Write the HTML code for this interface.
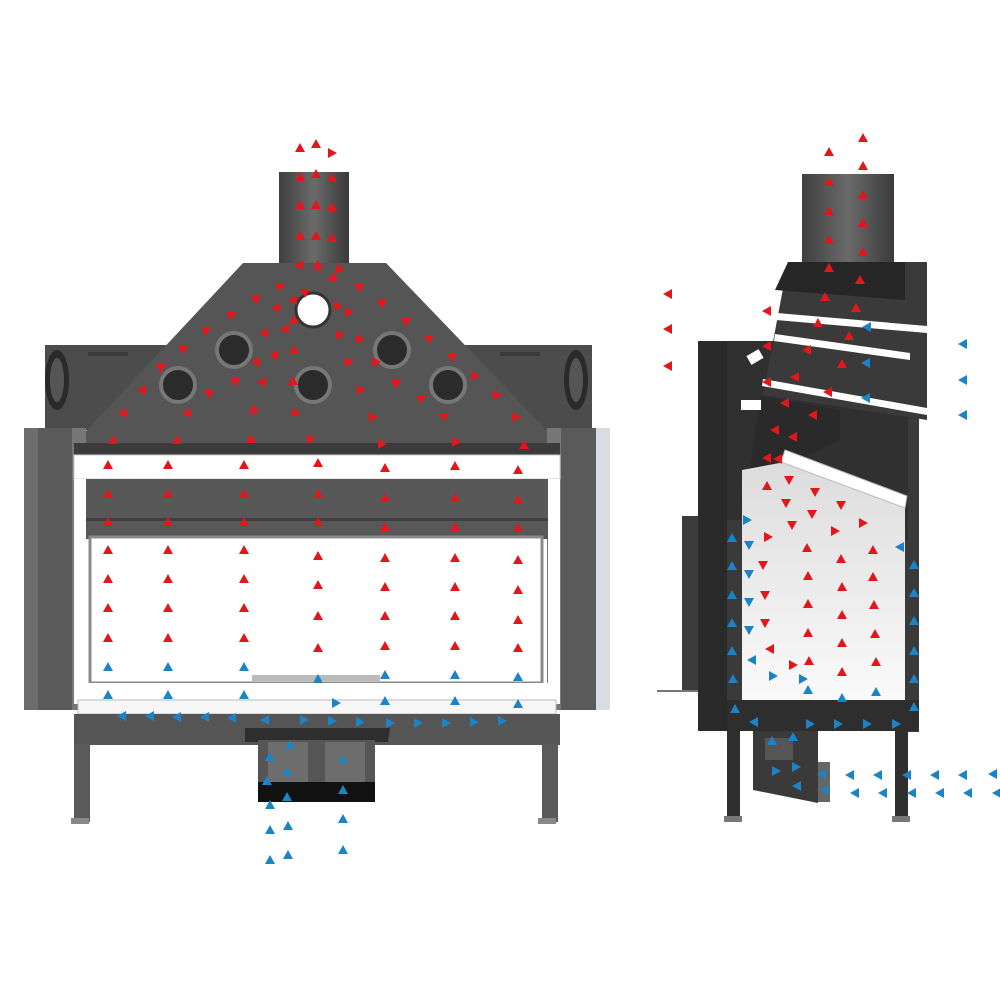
<!DOCTYPE html>
<html><head><meta charset="utf-8"><style>html,body{margin:0;padding:0;background:#fff}svg{display:block}</style></head>
<body>
<svg width="1000" height="1000" viewBox="0 0 1000 1000" xmlns="http://www.w3.org/2000/svg">
<defs>
<linearGradient id="pipe" x1="0" x2="1"><stop offset="0" stop-color="#3f3f3f"/><stop offset=".5" stop-color="#6a6a6a"/><stop offset="1" stop-color="#3a3a3a"/></linearGradient>
<linearGradient id="fire" x1="0" x2="0" y1="0" y2="1"><stop offset="0" stop-color="#dcdcdc"/><stop offset="1" stop-color="#fafafa"/></linearGradient>
<polygon id="ru" points="-5,4 5,4 0,-5" fill="#e3161c"/>
<polygon id="rd" points="-5,-4 5,-4 0,5" fill="#e3161c"/>
<polygon id="rl" points="4,-5 4,5 -5,0" fill="#e3161c"/>
<polygon id="rr" points="-4,-5 -4,5 5,0" fill="#e3161c"/>
<polygon id="bu" points="-5,4 5,4 0,-5" fill="#1b84c6"/>
<polygon id="bd" points="-5,-4 5,-4 0,5" fill="#1b84c6"/>
<polygon id="bl" points="4,-5 4,5 -5,0" fill="#1b84c6"/>
<polygon id="br" points="-4,-5 -4,5 5,0" fill="#1b84c6"/>
</defs>

<!-- ===== LEFT UNIT ===== -->
<rect x="45" y="345" width="547" height="85" fill="#4c4c4c"/>
<rect x="88" y="352" width="40" height="4" fill="#3a3a3a"/>
<rect x="500" y="352" width="40" height="4" fill="#3a3a3a"/>
<ellipse cx="57" cy="380" rx="12" ry="30" fill="#2a2a2a"/><ellipse cx="57" cy="380" rx="7" ry="22" fill="#555"/>
<ellipse cx="576" cy="380" rx="12" ry="30" fill="#2a2a2a"/><ellipse cx="576" cy="380" rx="7" ry="22" fill="#555"/>
<rect x="279" y="172" width="70" height="95" fill="url(#pipe)"/>
<polygon points="243,263 386,263 560,444 74,444" fill="#555"/>
<circle cx="313" cy="310" r="17" fill="#fff" stroke="#333" stroke-width="3"/>
<g fill="#2b2b2b" stroke="#777" stroke-width="4">
<circle cx="234" cy="350" r="17"/><circle cx="392" cy="350" r="17"/>
<circle cx="178" cy="385" r="17"/><circle cx="313" cy="385" r="17"/><circle cx="448" cy="385" r="17"/>
</g>
<rect x="24" y="428" width="48" height="282" fill="#5a5a5a"/><rect x="24" y="428" width="14" height="282" fill="#6d6d6d"/>
<rect x="560" y="428" width="36" height="282" fill="#5a5a5a"/><rect x="596" y="428" width="14" height="282" fill="#d8dde2"/>
<rect x="72" y="428" width="14" height="282" fill="#777"/><rect x="547" y="428" width="14" height="282" fill="#777"/>
<rect x="74" y="443" width="486" height="12" fill="#3b3b3b"/>
<rect x="74" y="455" width="486" height="24" fill="#fff" stroke="#ccc"/>
<rect x="86" y="479" width="462" height="60" fill="#585858"/>
<rect x="86" y="518" width="462" height="3" fill="#404040"/>
<rect x="74" y="479" width="12" height="225" fill="#fff"/><rect x="548" y="479" width="12" height="225" fill="#fff"/>
<rect x="90" y="537" width="452" height="146" fill="#fff" stroke="#8a8a8a" stroke-width="3"/>
<rect x="252" y="675" width="128" height="6" fill="#bbb"/>
<rect x="74" y="683" width="486" height="20" fill="#fff"/>
<rect x="78" y="700" width="478" height="14" fill="#f6f6f6" stroke="#bbb"/>
<rect x="74" y="714" width="486" height="31" fill="#555"/>
<rect x="74" y="744" width="16" height="78" fill="#5a5a5a"/><rect x="542" y="744" width="16" height="78" fill="#5a5a5a"/>
<rect x="71" y="818" width="18" height="6" fill="#888"/><rect x="538" y="818" width="18" height="6" fill="#888"/>
<polygon points="245,728 390,728 388,742 245,742" fill="#2e2e2e"/>
<rect x="258" y="740" width="117" height="48" fill="#555"/>
<rect x="268" y="742" width="40" height="44" fill="#6d6d6d"/><rect x="325" y="742" width="40" height="44" fill="#6d6d6d"/>
<rect x="258" y="782" width="117" height="20" fill="#111"/>

<!-- ===== RIGHT UNIT ===== -->
<rect x="802" y="174" width="92" height="90" fill="url(#pipe)"/>
<rect x="727" y="341" width="192" height="390" fill="#303030"/>
<rect x="698" y="341" width="29" height="390" fill="#2a2a2a"/>
<rect x="682" y="516" width="16" height="176" fill="#3c3c3c"/>
<rect x="657" y="690" width="41" height="2" fill="#777"/>
<rect x="908" y="262" width="11" height="470" fill="#3a3a3a"/>
<polygon points="788,262 927,262 927,420 763,395" fill="#3a3a3a"/>
<polygon points="788,262 905,262 905,300 775,290" fill="#262626"/>
<polygon points="777,313 927,326 927,333 776,320" fill="#fff"/>
<polygon points="775,334 910,353 910,360 774,341" fill="#fff"/>
<polygon points="763,379 927,408 927,415 762,386" fill="#fff"/>
<polygon points="760,396 840,410 840,440 760,480 743,520" fill="#2a2a2a"/>
<rect x="748" y="352" width="14" height="10" fill="#fff" transform="rotate(-30 755 357)"/>
<rect x="741" y="400" width="20" height="10" fill="#fff"/>
<polygon points="742,470 785,462 905,505 905,700 742,700" fill="url(#fire)"/>
<polygon points="785,450 907,496 905,508 781,462" fill="#fff" stroke="#bbb"/>
<rect x="727" y="520" width="15" height="180" fill="#3a3a3a"/>
<rect x="905" y="540" width="14" height="165" fill="#3a3a3a"/>
<rect x="727" y="700" width="192" height="31" fill="#2e2e2e"/>
<rect x="727" y="731" width="13" height="86" fill="#2f2f2f"/><rect x="895" y="731" width="13" height="86" fill="#2f2f2f"/>
<rect x="724" y="816" width="18" height="6" fill="#777"/><rect x="892" y="816" width="18" height="6" fill="#777"/>
<polygon points="753,731 818,731 818,803 753,790" fill="#3a3a3a"/>
<rect x="765" y="738" width="28" height="22" fill="#555"/>
<rect x="818" y="762" width="12" height="40" fill="#666"/>

<!-- ===== TRIANGLES LEFT ===== -->
<g>
<use href="#ru" x="300" y="148"/><use href="#ru" x="316" y="144"/><use href="#rr" x="332" y="153"/>
<use href="#ru" x="300" y="177"/><use href="#ru" x="316" y="174"/><use href="#ru" x="332" y="178"/>
<use href="#ru" x="300" y="205"/><use href="#ru" x="316" y="205"/><use href="#ru" x="332" y="207"/>
<use href="#ru" x="300" y="236"/><use href="#ru" x="316" y="236"/><use href="#ru" x="332" y="238"/>
<use href="#rl" x="299" y="265"/><use href="#ru" x="318" y="265"/><use href="#rr" x="340" y="269"/><use href="#ru" x="333" y="277"/>
<use href="#rd" x="280" y="287"/><use href="#rd" x="359" y="288"/><use href="#rd" x="305" y="293"/><use href="#rd" x="256" y="300"/>
<use href="#rl" x="293" y="300"/><use href="#rl" x="276" y="308"/><use href="#rr" x="338" y="306"/><use href="#rr" x="349" y="312"/>
<use href="#rd" x="382" y="304"/><use href="#rd" x="231" y="316"/><use href="#ru" x="294" y="320"/><use href="#rl" x="285" y="329"/>
<use href="#rl" x="264" y="333"/><use href="#rd" x="406" y="322"/><use href="#rd" x="206" y="331"/><use href="#rr" x="340" y="335"/>
<use href="#rr" x="360" y="339"/><use href="#rd" x="429" y="339"/><use href="#ru" x="294" y="350"/><use href="#rl" x="274" y="355"/>
<use href="#rd" x="183" y="349"/><use href="#rl" x="256" y="362"/><use href="#rr" x="349" y="362"/><use href="#rr" x="376" y="362"/>
<use href="#rd" x="452" y="357"/><use href="#rd" x="161" y="368"/><use href="#rd" x="235" y="382"/><use href="#rl" x="262" y="382"/>
<use href="#ru" x="293" y="381"/><use href="#rd" x="396" y="384"/><use href="#rr" x="475" y="376"/><use href="#rl" x="142" y="390"/>
<use href="#rd" x="209" y="394"/><use href="#rr" x="361" y="390"/><use href="#rd" x="421" y="399"/><use href="#rr" x="497" y="395"/>
<use href="#rl" x="123" y="413"/><use href="#rl" x="187" y="413"/><use href="#ru" x="254" y="409"/><use href="#ru" x="295" y="412"/>
<use href="#rr" x="373" y="417"/><use href="#rd" x="444" y="417"/><use href="#rr" x="516" y="417"/>
<use href="#ru" x="113" y="440"/><use href="#ru" x="177" y="440"/><use href="#ru" x="251" y="439"/><use href="#rr" x="311" y="439"/>
<use href="#rr" x="382" y="444"/><use href="#rr" x="456" y="442"/><use href="#ru" x="524" y="445"/>
</g>
<g>
<use href="#ru" x="108" y="465"/><use href="#ru" x="168" y="465"/><use href="#ru" x="244" y="465"/><use href="#ru" x="318" y="463"/><use href="#ru" x="385" y="468"/><use href="#ru" x="455" y="466"/><use href="#ru" x="518" y="470"/>
<use href="#ru" x="108" y="494"/><use href="#ru" x="168" y="494"/><use href="#ru" x="244" y="494"/><use href="#ru" x="318" y="494"/><use href="#ru" x="385" y="498"/><use href="#ru" x="455" y="498"/><use href="#ru" x="518" y="500"/>
<use href="#ru" x="108" y="522"/><use href="#ru" x="168" y="522"/><use href="#ru" x="244" y="522"/><use href="#ru" x="318" y="522"/><use href="#ru" x="385" y="527"/><use href="#ru" x="455" y="527"/><use href="#ru" x="518" y="528"/>
<use href="#ru" x="108" y="550"/><use href="#ru" x="168" y="550"/><use href="#ru" x="244" y="550"/><use href="#ru" x="318" y="556"/><use href="#ru" x="385" y="558"/><use href="#ru" x="455" y="558"/><use href="#ru" x="518" y="560"/>
<use href="#ru" x="108" y="579"/><use href="#ru" x="168" y="579"/><use href="#ru" x="244" y="579"/><use href="#ru" x="318" y="585"/><use href="#ru" x="385" y="587"/><use href="#ru" x="455" y="587"/><use href="#ru" x="518" y="590"/>
<use href="#ru" x="108" y="608"/><use href="#ru" x="168" y="608"/><use href="#ru" x="244" y="608"/><use href="#ru" x="318" y="616"/><use href="#ru" x="385" y="616"/><use href="#ru" x="455" y="616"/><use href="#ru" x="518" y="620"/>
<use href="#ru" x="108" y="638"/><use href="#ru" x="168" y="638"/><use href="#ru" x="244" y="638"/><use href="#ru" x="318" y="648"/><use href="#ru" x="385" y="646"/><use href="#ru" x="455" y="646"/><use href="#ru" x="518" y="648"/>
<use href="#bu" x="108" y="667"/><use href="#bu" x="168" y="667"/><use href="#bu" x="244" y="667"/><use href="#bu" x="318" y="679"/><use href="#bu" x="385" y="675"/><use href="#bu" x="455" y="675"/><use href="#bu" x="518" y="677"/>
<use href="#bu" x="108" y="695"/><use href="#bu" x="168" y="695"/><use href="#bu" x="244" y="695"/><use href="#br" x="336" y="703"/><use href="#bu" x="385" y="701"/><use href="#bu" x="455" y="701"/><use href="#bu" x="518" y="704"/>
<use href="#bl" x="122" y="716"/><use href="#bl" x="150" y="716"/><use href="#bl" x="177" y="717"/><use href="#bl" x="205" y="717"/><use href="#bl" x="232" y="718"/><use href="#bl" x="265" y="720"/>
<use href="#br" x="304" y="720"/><use href="#br" x="332" y="721"/><use href="#br" x="360" y="722"/><use href="#br" x="390" y="723"/><use href="#br" x="418" y="723"/><use href="#br" x="446" y="723"/><use href="#br" x="474" y="722"/><use href="#br" x="502" y="721"/>
<use href="#bu" x="290" y="745"/><use href="#bu" x="270" y="757"/><use href="#bu" x="287" y="772"/><use href="#bu" x="267" y="781"/><use href="#bu" x="343" y="760"/>
<use href="#bu" x="287" y="797"/><use href="#bu" x="343" y="790"/><use href="#bu" x="270" y="805"/>
<use href="#bu" x="270" y="830"/><use href="#bu" x="288" y="826"/><use href="#bu" x="343" y="819"/>
<use href="#bu" x="270" y="860"/><use href="#bu" x="288" y="855"/><use href="#bu" x="343" y="850"/>
</g>

<!-- ===== TRIANGLES RIGHT ===== -->
<g>
<use href="#ru" x="863" y="138"/><use href="#ru" x="829" y="152"/><use href="#ru" x="863" y="166"/><use href="#ru" x="829" y="182"/><use href="#ru" x="863" y="195"/><use href="#ru" x="829" y="211"/><use href="#ru" x="863" y="223"/><use href="#ru" x="829" y="240"/><use href="#ru" x="863" y="252"/><use href="#ru" x="829" y="268"/><use href="#ru" x="860" y="280"/><use href="#ru" x="825" y="297"/><use href="#ru" x="856" y="308"/>
<use href="#ru" x="818" y="323"/><use href="#ru" x="849" y="336"/><use href="#rl" x="807" y="350"/><use href="#ru" x="842" y="364"/><use href="#rl" x="795" y="377"/><use href="#rl" x="828" y="392"/><use href="#rl" x="785" y="403"/><use href="#rl" x="813" y="415"/><use href="#rl" x="775" y="430"/><use href="#rl" x="793" y="437"/><use href="#rl" x="767" y="458"/><use href="#rl" x="778" y="459"/>
<use href="#ru" x="767" y="486"/><use href="#rd" x="789" y="480"/><use href="#rd" x="815" y="492"/><use href="#rd" x="786" y="503"/><use href="#rd" x="841" y="505"/><use href="#rd" x="812" y="514"/><use href="#rd" x="792" y="525"/><use href="#rr" x="835" y="531"/><use href="#rr" x="863" y="523"/><use href="#rr" x="768" y="537"/>
<use href="#ru" x="807" y="548"/><use href="#ru" x="873" y="550"/><use href="#ru" x="841" y="559"/><use href="#rd" x="763" y="565"/><use href="#ru" x="808" y="576"/><use href="#ru" x="873" y="577"/><use href="#ru" x="842" y="587"/><use href="#rd" x="765" y="595"/>
<use href="#ru" x="808" y="604"/><use href="#ru" x="874" y="605"/><use href="#ru" x="842" y="615"/><use href="#rd" x="765" y="623"/><use href="#ru" x="808" y="633"/><use href="#ru" x="875" y="634"/><use href="#ru" x="842" y="643"/><use href="#rl" x="770" y="649"/><use href="#rr" x="793" y="665"/><use href="#ru" x="809" y="661"/><use href="#ru" x="876" y="662"/><use href="#ru" x="842" y="672"/>
<use href="#rl" x="668" y="294"/><use href="#rl" x="668" y="329"/><use href="#rl" x="668" y="366"/><use href="#rl" x="767" y="311"/><use href="#rl" x="767" y="346"/><use href="#rl" x="767" y="382"/>
<use href="#bl" x="867" y="327"/><use href="#bl" x="866" y="363"/><use href="#bl" x="866" y="398"/><use href="#bl" x="963" y="344"/><use href="#bl" x="963" y="380"/><use href="#bl" x="963" y="415"/>
<use href="#br" x="747" y="520"/><use href="#bu" x="732" y="538"/><use href="#bd" x="749" y="545"/><use href="#bu" x="732" y="566"/><use href="#bd" x="749" y="574"/><use href="#bu" x="732" y="595"/><use href="#bd" x="749" y="602"/><use href="#bu" x="732" y="623"/><use href="#bd" x="749" y="630"/><use href="#bu" x="732" y="651"/><use href="#bl" x="752" y="660"/><use href="#bu" x="733" y="679"/>
<use href="#br" x="773" y="676"/><use href="#br" x="803" y="679"/><use href="#bu" x="808" y="690"/><use href="#bu" x="842" y="698"/><use href="#bu" x="876" y="692"/>
<use href="#bl" x="900" y="547"/><use href="#bu" x="914" y="565"/><use href="#bu" x="914" y="593"/><use href="#bu" x="914" y="621"/><use href="#bu" x="914" y="651"/><use href="#bu" x="914" y="679"/><use href="#bu" x="914" y="707"/>
<use href="#bu" x="735" y="709"/><use href="#bl" x="754" y="722"/><use href="#br" x="810" y="724"/><use href="#br" x="838" y="724"/><use href="#br" x="867" y="724"/><use href="#br" x="896" y="724"/>
<use href="#bu" x="772" y="741"/><use href="#bu" x="793" y="737"/><use href="#br" x="776" y="771"/><use href="#br" x="796" y="767"/><use href="#bl" x="797" y="786"/>
<use href="#bl" x="822" y="774"/><use href="#bl" x="850" y="775"/><use href="#bl" x="878" y="775"/><use href="#bl" x="907" y="775"/><use href="#bl" x="935" y="775"/><use href="#bl" x="963" y="775"/><use href="#bl" x="993" y="774"/>
<use href="#bl" x="825" y="790"/><use href="#bl" x="855" y="793"/><use href="#bl" x="883" y="793"/><use href="#bl" x="912" y="793"/><use href="#bl" x="940" y="793"/><use href="#bl" x="968" y="793"/><use href="#bl" x="997" y="793"/>
</g>
</svg>
</body></html>
